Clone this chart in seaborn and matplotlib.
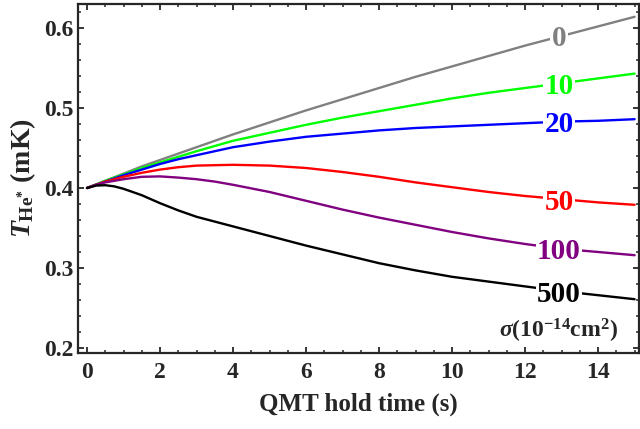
import numpy as np
import pandas as pd
import matplotlib
matplotlib.use('Agg')
import matplotlib.pyplot as plt
import seaborn as sns
from matplotlib.ticker import MultipleLocator

# tiempo de retención (s) y temperatura (mK) para cada sigma (1e-14 cm^2)
tiempo = [0, 0.25, 0.5, 0.75, 1, 1.5, 2, 2.5, 3, 3.5, 4, 5, 6, 7, 8, 9, 10, 11, 12, 13, 14, 15]
sigma_labels = ['0', '10', '20', '50', '100', '500']
colores = ['#808080', '#00ff00', '#0000ff', '#ff0000', '#800080', '#000000']

T_0 = [0.400, 0.4045, 0.409, 0.4135, 0.418, 0.427, 0.435, 0.443, 0.451, 0.459, 0.467, 0.482,
       0.497, 0.511, 0.525, 0.539, 0.552, 0.565, 0.578, 0.590, 0.602, 0.614]
T_10 = [0.400, 0.4045, 0.409, 0.413, 0.417, 0.425, 0.432, 0.439, 0.446, 0.4525, 0.459, 0.469,
        0.479, 0.488, 0.496, 0.504, 0.512, 0.519, 0.525, 0.531, 0.537, 0.543]
T_20 = [0.400, 0.404, 0.408, 0.412, 0.416, 0.423, 0.430, 0.436, 0.441, 0.446, 0.451, 0.458,
        0.464, 0.468, 0.472, 0.475, 0.477, 0.479, 0.481, 0.483, 0.484, 0.486]
T_50 = [0.400, 0.404, 0.408, 0.411, 0.414, 0.419, 0.423, 0.426, 0.428, 0.4285, 0.429, 0.428,
        0.425, 0.420, 0.414, 0.407, 0.401, 0.395, 0.390, 0.386, 0.382, 0.379]
T_100 = [0.400, 0.404, 0.407, 0.409, 0.411, 0.414, 0.4145, 0.413, 0.411, 0.408, 0.404, 0.395,
         0.384, 0.373, 0.363, 0.354, 0.345, 0.337, 0.330, 0.324, 0.320, 0.316]
T_500 = [0.400, 0.403, 0.4035, 0.402, 0.399, 0.391, 0.381, 0.372, 0.364, 0.358, 0.352, 0.340,
         0.328, 0.317, 0.306, 0.297, 0.289, 0.283, 0.277, 0.271, 0.266, 0.261]
series = [T_0, T_10, T_20, T_50, T_100, T_500]

df = pd.concat([pd.DataFrame({'t': tiempo, 'T': s, 'sigma': lab})
                for s, lab in zip(series, sigma_labels)], ignore_index=True)

sns.set_style('ticks')
plt.rcParams['font.family'] = ['Liberation Serif', 'DejaVu Serif']
plt.rcParams['font.weight'] = 'bold'
plt.rcParams['mathtext.fontset'] = 'custom'
plt.rcParams['mathtext.rm'] = 'Liberation Serif:bold'
plt.rcParams['mathtext.bf'] = 'Liberation Serif:bold'
plt.rcParams['mathtext.it'] = 'Liberation Serif:italic:bold'

fig = plt.figure(figsize=(6.4, 4.29), dpi=100)
ax = fig.add_axes([78 / 640, 76 / 429, 561 / 640, 349 / 429])

sns.lineplot(data=df, x='t', y='T', hue='sigma', hue_order=sigma_labels,
             palette=colores, linewidth=1.7, legend=False, ax=ax)

# etiquetas sobre cada curva
i13 = tiempo.index(13)
for s, lab, c in zip(series, sigma_labels, colores):
    ax.text(12.93, s[i13], lab, color=c, fontsize=21, fontweight='bold',
            ha='center', va='center_baseline',
            bbox=dict(boxstyle='square,pad=0.05', fc='white', ec='none'))

ax.text(14.55, 0.2215, r'$\sigma$(10$^{-14}$cm$^{2}$)', fontsize=17,
        ha='right', va='center')

ax.set_xlim(-0.247, 15.12)
ax.set_ylim(0.19375, 0.63)
ax.xaxis.set_major_locator(MultipleLocator(2))
ax.xaxis.set_minor_locator(MultipleLocator(0.5))
ax.yaxis.set_major_locator(MultipleLocator(0.1))
ax.yaxis.set_minor_locator(MultipleLocator(0.02))
ax.tick_params(which='both', direction='in', top=True, right=True, labelsize=17)
ax.tick_params(which='major', length=4, width=1.3)
ax.tick_params(which='minor', length=2.3, width=1.1)
ax.tick_params(axis='x', pad=6.5)
ax.tick_params(axis='y', pad=3.5)
for sp in ax.spines.values():
    sp.set_linewidth(1.6)

ax.set_xlabel('QMT hold time (s)', fontsize=18, fontweight='bold', labelpad=7)
ax.set_ylabel(r'$T_{\mathrm{He}^{*}}$ (mK)', fontsize=20, fontweight='bold', labelpad=4)

fig.savefig('out.png', dpi=100)
